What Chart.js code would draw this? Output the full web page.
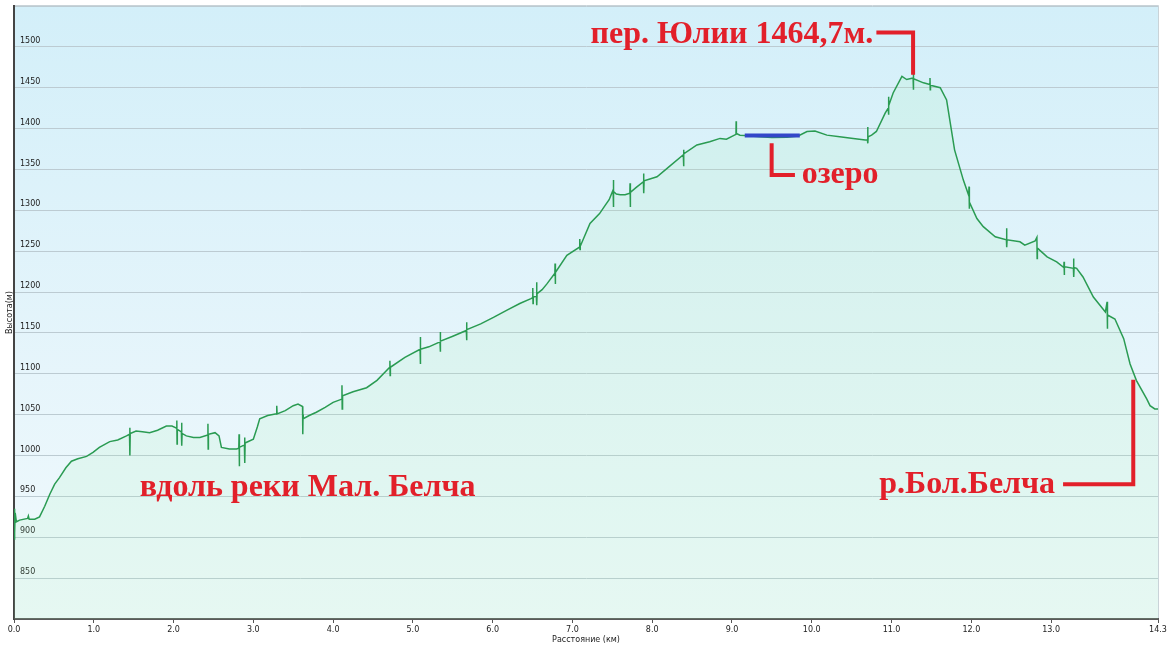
<!DOCTYPE html>
<html>
<head>
<meta charset="utf-8">
<title>Профиль высот</title>
<script src="https://cdn.jsdelivr.net/npm/chart.js@4.4.1/dist/chart.umd.min.js"></script>
<style>
  html, body { margin: 0; padding: 0; background: #fff; }
  #wrap { position: relative; width: 1167px; height: 649px; }
</style>
</head>
<body>
<div id="wrap"><canvas id="profileChart"></canvas></div>
<script>
// track profile: distance (km) and elevation (m)
const distanceKm = [
  0.000, 0.005, 0.010, 0.015, 0.030, 0.07, 0.17, 0.18, 0.19, 0.26, 0.32, 0.385, 0.45, 0.51, 0.57, 0.65,
  0.72, 0.80, 0.91, 0.99, 1.07, 1.20, 1.30, 1.41, 1.448, 1.451, 1.454, 1.457, 1.53, 1.61, 1.70, 1.80,
  1.91, 1.98, 2.03, 2.038, 2.041, 2.044, 2.047, 2.098, 2.101, 2.104, 2.107, 2.16, 2.25, 2.33, 2.428, 2.431,
  2.434, 2.437, 2.52, 2.57, 2.60, 2.70, 2.79, 2.818, 2.821, 2.824, 2.827, 2.888, 2.891, 2.894, 2.897, 2.91,
  3.00, 3.05, 3.08, 3.18, 3.29, 3.292, 3.295, 3.298, 3.40, 3.50, 3.56, 3.617, 3.620, 3.623, 3.626, 3.70,
  3.79, 3.90, 4.00, 4.108, 4.111, 4.114, 4.117, 4.12, 4.25, 4.42, 4.55, 4.71, 4.712, 4.715, 4.718, 4.90,
  5.09, 5.092, 5.095, 5.098, 5.20, 5.34, 5.342, 5.345, 5.348, 5.50, 5.67, 5.672, 5.675, 5.678, 5.85, 6.01,
  6.18, 6.34, 6.48, 6.500, 6.503, 6.506, 6.509, 6.548, 6.551, 6.554, 6.557, 6.62, 6.68, 6.78, 6.782, 6.785,
  6.788, 6.93, 7.09, 7.092, 7.095, 7.098, 7.22, 7.34, 7.41, 7.46, 7.51, 7.512, 7.515, 7.518, 7.55, 7.60,
  7.66, 7.72, 7.722, 7.725, 7.728, 7.80, 7.89, 7.892, 7.895, 7.898, 8.06, 8.22, 8.39, 8.392, 8.395, 8.398,
  8.56, 8.72, 8.85, 8.93, 9.05, 9.052, 9.055, 9.10, 9.16, 9.35, 9.50, 9.69, 9.83, 9.94, 10.04, 10.19,
  10.35, 10.52, 10.67, 10.698, 10.701, 10.704, 10.707, 10.75, 10.81, 10.92, 10.958, 10.961, 10.964, 10.967, 11.02, 11.13,
  11.19, 11.27, 11.272, 11.275, 11.278, 11.40, 11.48, 11.482, 11.485, 11.488, 11.61, 11.69, 11.79, 11.90, 11.968, 11.971,
  11.974, 11.977, 12.07, 12.15, 12.30, 12.44, 12.442, 12.445, 12.448, 12.61, 12.67, 12.80, 12.822, 12.825, 12.828, 12.86,
  12.95, 13.07, 13.16, 13.162, 13.165, 13.168, 13.28, 13.282, 13.285, 13.288, 13.32, 13.40, 13.53, 13.68, 13.702, 13.705,
  13.708, 13.80, 13.91, 13.99, 14.07, 14.20, 14.24, 14.30, 14.34
];
const elevationM = [
  898, 935, 905, 930, 919, 921, 923, 926, 922, 922, 925, 938, 953, 965, 973, 985,
  993, 996, 999, 1004, 1010, 1017, 1019, 1024, 1026, 1034, 1000, 1027, 1030, 1029, 1028, 1031,
  1036, 1036, 1034, 1033, 1043, 1014, 1032, 1029, 1040, 1012, 1027, 1024, 1022, 1022, 1025, 1039,
  1008, 1026, 1028, 1024, 1010, 1008, 1008, 1009, 1026, 987, 1010, 1013, 1022, 991, 1015, 1016,
  1020, 1035, 1045, 1049, 1051, 1052, 1061, 1051, 1055, 1061, 1063, 1060, 1026, 1050, 1045, 1049,
  1053, 1059, 1065, 1069, 1086, 1057, 1071, 1073, 1078, 1083, 1092, 1108, 1116, 1098, 1108, 1120,
  1130, 1145, 1112, 1130, 1133, 1139, 1151, 1127, 1140, 1146, 1153, 1163, 1141, 1154, 1161, 1169,
  1178, 1186, 1192, 1193, 1205, 1186, 1194, 1195, 1212, 1184, 1198, 1203, 1210, 1223, 1235, 1210,
  1224, 1245, 1255, 1265, 1252, 1256, 1284, 1296, 1306, 1313, 1325, 1337, 1304, 1323, 1320, 1319,
  1319, 1321, 1333, 1304, 1322, 1328, 1335, 1345, 1321, 1336, 1341, 1354, 1368, 1374, 1354, 1369,
  1380, 1384, 1388, 1387, 1393, 1409, 1394, 1392, 1391.6, 1390, 1389, 1389.5, 1391, 1396.5, 1397, 1392,
  1390, 1388, 1386, 1386, 1402, 1382, 1390, 1392, 1396.5, 1419, 1425, 1439, 1417, 1428, 1443.6, 1464,
  1460, 1462, 1468.5, 1447.6, 1461, 1456, 1454, 1462, 1447.6, 1453, 1450, 1435, 1374, 1337, 1318, 1329,
  1302, 1310, 1290, 1280, 1267.6, 1264, 1278, 1255, 1264, 1261.5, 1257.4, 1262.7, 1267, 1241, 1254, 1251,
  1243, 1237, 1230, 1237, 1221, 1231, 1229, 1241, 1218.5, 1230, 1229, 1218.5, 1194, 1175.6, 1188, 1155,
  1172, 1167, 1143, 1112, 1091.7, 1069, 1061, 1057, 1057
];

// lake stretch (blue mark)
const lakeKm = [9.16, 9.85];
const lakeElev = [1391.6, 1391.6];

// axes
const xTickKm = [0, 1, 2, 3, 4, 5, 6, 7, 8, 9, 10, 11, 12, 13];
const xMaxKm = 14.34;
const yMinM = 800, yMaxM = 1550, yStepM = 50;

// hand-drawn notes, anchored in km / m
const notes = [
  { text: 'пер. Юлии 1464,7м.', at: [10.77, 1504.7], align: 'right', leader: [[10.81, 1517.7], [11.27, 1517.7], [11.27, 1466]] },
  { text: 'озеро', at: [9.873, 1333], align: 'left', leader: [[9.497, 1382.2], [9.497, 1343.3], [9.789, 1343.3]] },
  { text: 'вдоль реки Мал. Белча', at: [1.576, 950.6], align: 'left', leader: [] },
  { text: 'р.Бол.Белча', at: [13.05, 954.7], align: 'right', leader: [[13.15, 965], [14.03, 965], [14.03, 1092.6]] }
];

const NOTE_RED = '#e2202a';
const LINE_GREEN = '#2a9b52';
const AXIS_FONT = { family: '"DejaVu Sans", Verdana, sans-serif', size: 8 };

const profile = distanceKm.map((d, i) => ({ x: d, y: elevationM[i] }));
const lake = lakeKm.map((d, i) => ({ x: d, y: lakeElev[i] }));

// plot area gradient behind everything
const plotBackground = {
  id: 'plotBackground',
  beforeDraw(chart) {
    const { ctx, chartArea: a } = chart;
    const g = ctx.createLinearGradient(0, a.top, 0, a.bottom);
    g.addColorStop(0, '#d3eff9');
    g.addColorStop(0.6, '#e6f5fb');
    g.addColorStop(1, '#f1fafd');
    ctx.save();
    ctx.fillStyle = g;
    ctx.fillRect(a.left, a.top, a.right - a.left, a.bottom - a.top);
    ctx.strokeStyle = '#c9d3d8';
    ctx.lineWidth = 1;
    ctx.beginPath();
    ctx.moveTo(a.left, a.top - 0.5);
    ctx.lineTo(a.right + 0.5, a.top - 0.5);
    ctx.lineTo(a.right + 0.5, a.bottom);
    ctx.stroke();
    ctx.restore();
  }
};

// red captions and leader lines
const mapNotes = {
  id: 'mapNotes',
  afterDatasetsDraw(chart) {
    const { ctx, scales: { x, y } } = chart;
    ctx.save();
    ctx.strokeStyle = NOTE_RED;
    ctx.fillStyle = NOTE_RED;
    ctx.lineWidth = 4;
    ctx.lineJoin = 'miter';
    ctx.font = 'bold 32px "Liberation Serif", "Times New Roman", serif';
    ctx.textBaseline = 'alphabetic';
    notes.forEach(n => {
      if (n.leader.length) {
        ctx.beginPath();
        n.leader.forEach(([d, e], i) => {
          const px = x.getPixelForValue(d), py = y.getPixelForValue(e);
          if (i === 0) ctx.moveTo(px, py); else ctx.lineTo(px, py);
        });
        ctx.stroke();
      }
      ctx.textAlign = n.align;
      ctx.fillText(n.text, x.getPixelForValue(n.at[0]), y.getPixelForValue(n.at[1]));
    });
    ctx.restore();
  }
};

new Chart(document.getElementById('profileChart'), {
  type: 'line',
  data: {
    datasets: [
      {
        label: 'озеро',
        data: lake,
        borderColor: '#3347c9',
        borderWidth: 4,
        pointRadius: 0,
        fill: false,
        order: 0
      },
      {
        label: 'Высота',
        data: profile,
        borderColor: LINE_GREEN,
        borderWidth: 1.5,
        backgroundColor: 'rgba(160, 240, 180, 0.14)',
        pointRadius: 0,
        tension: 0,
        fill: 'start',
        order: 1
      }
    ]
  },
  options: {
    responsive: true,
    maintainAspectRatio: false,
    animation: false,
    layout: { padding: { top: 6, right: 9, left: 0, bottom: 0 } },
    plugins: {
      legend: { display: false },
      tooltip: { enabled: false }
    },
    scales: {
      x: {
        type: 'linear',
        min: 0,
        max: xMaxKm,
        afterFit: s => { s.height = 30; s.paddingLeft = 0; s.paddingRight = 0; },
        afterBuildTicks: s => { s.ticks = xTickKm.concat([xMaxKm]).map(v => ({ value: v })); },
        ticks: {
          font: AXIS_FONT,
          color: '#222',
          padding: 2,
          maxRotation: 0,
          autoSkip: false,
          callback: v => Number(v).toFixed(1)
        },
        grid: { drawOnChartArea: false, drawTicks: true, tickLength: 4, color: '#555' },
        border: { color: '#5a5a5a', width: 2 },
        title: {
          display: true,
          text: 'Расстояние (км)',
          font: AXIS_FONT,
          color: '#222',
          padding: { top: 0, bottom: 4 }
        }
      },
      y: {
        min: yMinM,
        max: yMaxM,
        afterFit: s => { s.width = 14; s.paddingTop = 0; s.paddingBottom = 0; },
        ticks: {
          stepSize: yStepM,
          mirror: true,
          padding: 6,
          labelOffset: -6,
          font: AXIS_FONT,
          color: '#222',
          callback: v => (v === yMinM || v === yMaxM) ? '' : String(v)
        },
        grid: { drawTicks: false, color: '#bccbd2', lineWidth: 1 },
        border: { color: '#444', width: 2 },
        title: {
          display: true,
          text: 'Высота(м)',
          font: AXIS_FONT,
          color: '#222',
          padding: { top: 5, bottom: 0 }
        }
      }
    }
  },
  plugins: [plotBackground, mapNotes]
});
</script>
</body>
</html>
